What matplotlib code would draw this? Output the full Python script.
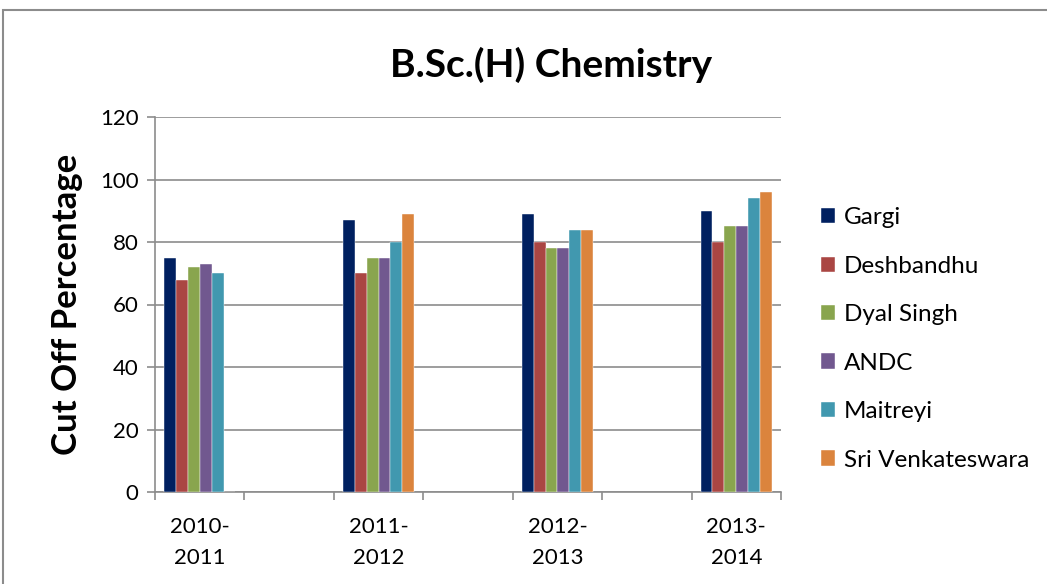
import matplotlib
matplotlib.use("Agg")
import matplotlib.pyplot as plt
from matplotlib.patches import Rectangle
import numpy as np

years = ["2010-\n2011", "2011-\n2012", "2012-\n2013", "2013-\n2014"]
colleges = ["Gargi", "Deshbandhu", "Dyal Singh", "ANDC", "Maitreyi", "Sri Venkateswara"]
gargi = [75, 87, 89, 90]
deshbandhu = [68, 70, 80, 80]
dyal_singh = [72, 75, 78, 85]
andc = [73, 75, 78, 85]
maitreyi = [70, 80, 84, 94]
sri_venkateswara = [0, 89, 84, 96]
series = [gargi, deshbandhu, dyal_singh, andc, maitreyi, sri_venkateswara]
colors = ["#002060", "#AA4643", "#89A54E", "#71588F", "#4198AF", "#DB843D"]

font = "Lato"
plt.rcParams["font.family"] = [font, "DejaVu Sans"]

fig = plt.figure(figsize=(10.47, 5.84), dpi=100)
# outer chart frame
fig.patches.append(Rectangle((3/1047, -0.1), 1.2, 1 - 10/584 + 0.1,
                             transform=fig.transFigure, fill=False,
                             edgecolor="#8c8c8c", linewidth=1.5))

ax = fig.add_axes([155/1047, 1 - 492/584, (781 - 155)/1047, (492 - 117)/584])

# 7 category slots: data at 0,2,4,6 with empty slots between
pos = np.arange(len(years)) * 2
n = len(series)
bw = 0.8 / n
for i, (vals, c, name) in enumerate(zip(series, colors, colleges)):
    x = pos - 0.4 + bw * (i + 0.5)
    ax.bar(x, vals, width=bw, color=c, label=name, edgecolor="white", linewidth=0.3, zorder=3)

ax.set_xlim(-0.5, 6.5)
ax.set_ylim(0, 120)
ax.set_yticks(range(0, 121, 20))
ax.yaxis.grid(True, color="#8c8c8c", linewidth=1.2, zorder=0)
ax.set_axisbelow(True)

for s in ["top", "right"]:
    ax.spines[s].set_visible(False)
for s in ["left", "bottom"]:
    ax.spines[s].set_color("#8c8c8c")
    ax.spines[s].set_linewidth(1.2)

ax.set_xticks(pos)
ax.set_xticklabels(years, fontsize=16, linespacing=1.7)
ax.tick_params(axis="x", length=0, pad=18)
ax.set_xticks(np.arange(-0.5, 7.0, 1.0), minor=True)
ax.tick_params(axis="x", which="minor", length=6, color="#8c8c8c", width=1.2)
ax.tick_params(axis="y", length=6, color="#8c8c8c", width=1.2, labelsize=16, pad=6)

ax.set_ylabel("Cut Off Percentage", fontsize=25, fontweight="bold", labelpad=12)
fig.text(551/1047, 1 - 65/584, "B.Sc.(H) Chemistry", fontsize=28, fontweight="bold",
         ha="center", va="center")

handles, labels = ax.get_legend_handles_labels()
fig.legend(handles, labels, loc="center left", bbox_to_anchor=(799/1047, 1 - 339/584),
           frameon=False, fontsize=17.5, handlelength=0.6, handleheight=0.6,
           labelspacing=1.13, handletextpad=0.35)

fig.savefig("out.png", dpi=100)
